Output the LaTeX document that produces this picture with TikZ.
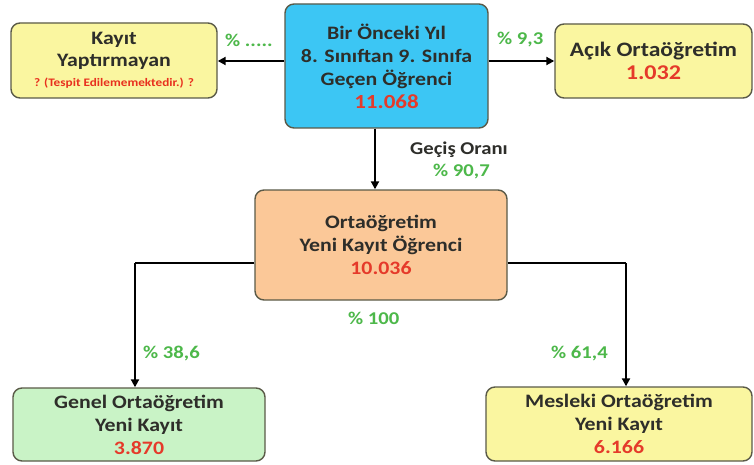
\documentclass[tikz,border=0pt]{standalone}
\usepackage{fontspec}
\setmainfont{Carlito}[FakeStretch=1.15]
\usetikzlibrary{arrows.meta}
\definecolor{txt}{HTML}{2E2E2A}
\definecolor{numred}{HTML}{E53A2A}
\definecolor{smallred}{HTML}{E8301E}
\definecolor{pctgreen}{HTML}{4DB84A}
\definecolor{bluefill}{HTML}{3CC6F4}
\definecolor{yelfill}{HTML}{FAF6A0}
\definecolor{orfill}{HTML}{FBC898}
\definecolor{grfill}{HTML}{C9F3C6}
\definecolor{bord}{HTML}{5A5A48}
\tikzset{
  box/.style={draw=bord, line width=1.4pt, rounded corners=9pt, inner sep=0pt, align=center, text=txt, font=\bfseries\fontsize{19}{23}\selectfont},
  pct/.style={text=pctgreen, font=\bfseries\fontsize{18}{20}\selectfont, inner sep=0pt},
  lbl/.style={text=txt, font=\bfseries\fontsize{18}{20}\selectfont, inner sep=0pt},
  conn/.style={line width=2.5pt, black, -{Triangle[length=8pt,width=8pt]}},
  connplain/.style={line width=2.5pt, black},
}
\newcommand{\bignum}[1]{{\color{numred}#1}}
\begin{document}
\begin{tikzpicture}[x=1pt,y=-1pt]
\useasboundingbox (0,0) rectangle (754,465);
\fill[white] (0,0) rectangle (754,465);
% boxes
\node[box, fill=bluefill, minimum width=203pt, minimum height=124pt] (top) at (386.5,66)
  {Bir Önceki Yıl\\8. Sınıftan 9. Sınıfa\\Geçen Öğrenci\\\bignum{\fontsize{20}{26}\selectfont 11.068}};
\node[box, fill=yelfill, minimum width=206pt, minimum height=75pt] (kayit) at (114,60.5)
  {Kayıt\\[-1pt]Yaptırmayan\\[-3pt]{\color{smallred}\fontsize{11.5}{13}\selectfont ? (Tespit Edilememektedir.) ?}};
\node[box, fill=yelfill, minimum width=197pt, minimum height=74pt] (acik) at (653.5,61)
  {\fontsize{20.5}{24}\selectfont Açık Ortaöğretim\\\bignum{\fontsize{21}{24}\selectfont 1.032}};
\node[box, fill=orfill, minimum width=252pt, minimum height=110pt] (orta) at (381,245)
  {Ortaöğretim\\Yeni Kayıt Öğrenci\\\bignum{10.036}};
\node[box, fill=grfill, minimum width=252pt, minimum height=73pt] (genel) at (139,424.5)
  {Genel Ortaöğretim\\Yeni Kayıt\\\bignum{3.870}};
\node[box, fill=yelfill, minimum width=266pt, minimum height=74pt] (mesleki) at (619,424)
  {Mesleki Ortaöğretim\\Yeni Kayıt\\\bignum{6.166}};
% connectors
\draw[conn] (top.west |- 0,61) -- (kayit.east |- 0,61);
\draw[conn] (top.east |- 0,61) -- (acik.west |- 0,61);
\draw[conn] (top.south -| 375,0) -- (orta.north -| 375,0);
\coordinate (lc) at (135,263);
\coordinate (rc) at (626,263);
\draw[connplain] (orta.west |- lc) -- (lc);
\draw[conn] (lc) -- (genel.north -| lc);
\draw[connplain] (orta.east |- rc) -- (rc);
\draw[conn] (rc) -- (mesleki.north -| rc);
% labels
\node[pct, anchor=west] (p1) at (225,40) {\% .....};
\node[pct, anchor=west] (p2) at (497,40) {\% 9,3};
\node[lbl, anchor=west] (gec) at (410,150) {Geçiş Oranı};
\node[pct, anchor=west] (p3) at (433,172) {\% 90,7};
\node[pct, anchor=west] (p4) at (348,318) {\% 100};
\node[pct, anchor=west] (p5) at (143,354) {\% 38,6};
\node[pct, anchor=west] (p6) at (551,354) {\% 61,4};
\end{tikzpicture}
\end{document}
